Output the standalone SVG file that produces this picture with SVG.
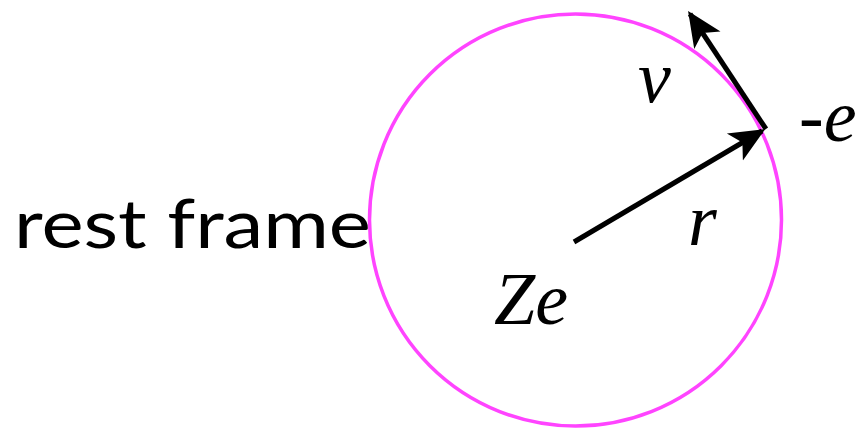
<svg xmlns="http://www.w3.org/2000/svg" width="859" height="428" viewBox="0 0 859 428">
<defs>
<marker id="ah" viewBox="0 0 10 10" refX="9" refY="5" markerWidth="7" markerHeight="7" markerUnits="strokeWidth" orient="auto">
<path d="M0,0.5 L10,5 L0,9.5 L2.5,5 Z" fill="#000"/>
</marker>
<style>
.it{font-family:"Liberation Serif","Times New Roman",serif;font-style:italic;font-size:74px;fill:#000}
.lbl{font-family:"Lato","Open Sans",sans-serif;font-size:68px;fill:#000}
.vec{stroke:#000;stroke-width:5;fill:none;marker-end:url(#ah)}
</style>
</defs>
<g id="label-rest-frame"><text class="lbl" x="14" y="248" textLength="357" lengthAdjust="spacingAndGlyphs">rest frame</text></g>
<g id="orbit"><circle cx="575.5" cy="220" r="206" fill="none" stroke="#ff44ff" stroke-width="3.5"/></g>
<g id="connectors">
<line class="vec" x1="574" y1="242" x2="762" y2="131"/>
<line class="vec" x1="766" y1="129" x2="690" y2="14"/>
</g>
<g id="label-v"><text class="it" x="638" y="102">v</text></g>
<g id="label-r"><text class="it" x="688" y="245">r</text></g>
<g id="label-e"><text class="it" x="799" y="141">-e</text></g>
<g id="label-Ze"><text class="it" x="494" y="324">Ze</text></g>
</svg>
